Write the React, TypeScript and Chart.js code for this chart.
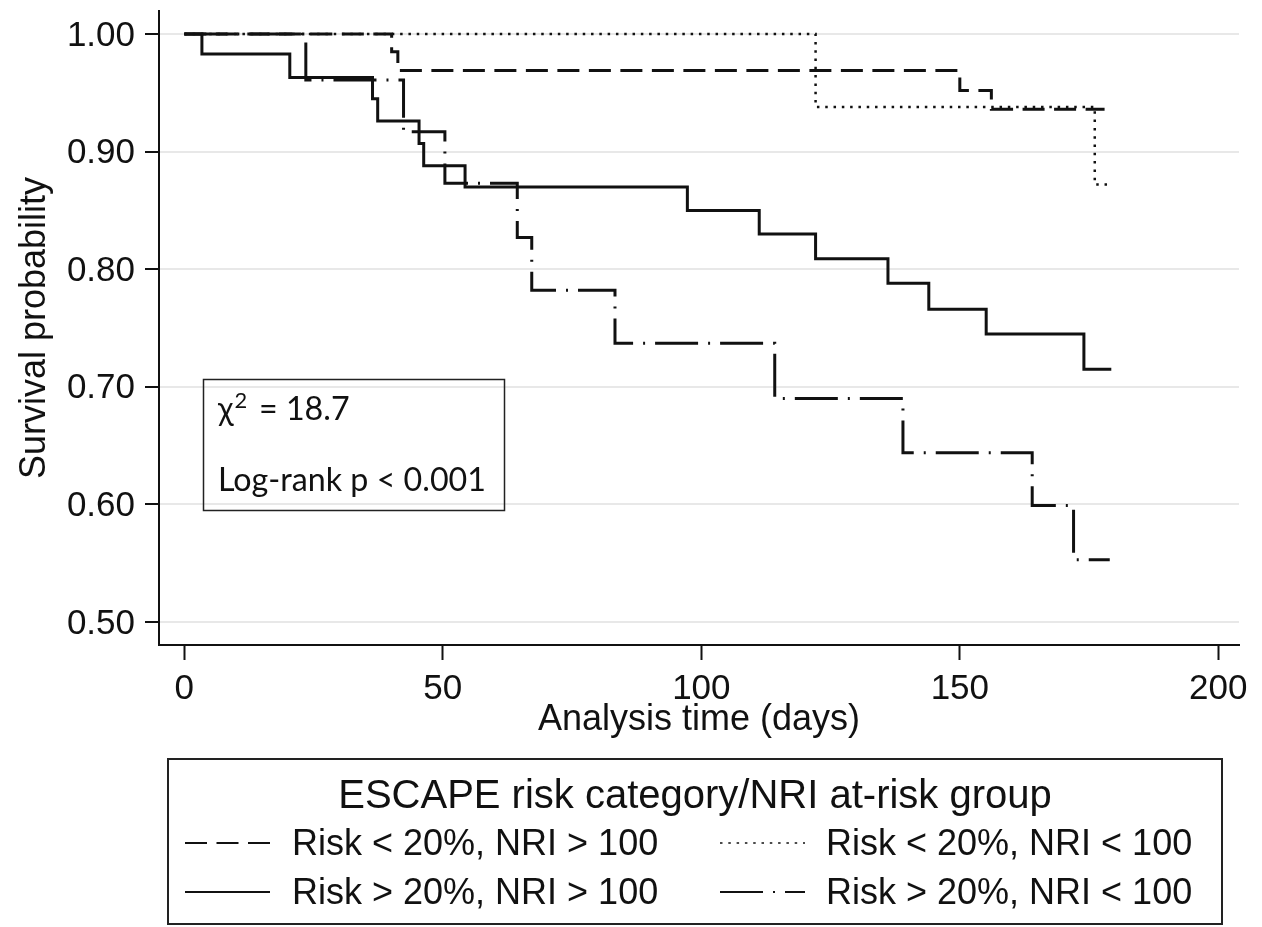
import { useEffect, useRef } from "react";
import { Chart, registerables } from "chart.js";

Chart.register(...registerables);

// ---------- data ----------
const groupLabels = [
  "Risk < 20%, NRI > 100",
  "Risk < 20%, NRI < 100",
  "Risk > 20%, NRI > 100",
  "Risk > 20%, NRI < 100",
];

const lowRiskHighNriTime = [0, 40.1, 41.3, 150.0, 156.1, 178.0];
const lowRiskHighNriSurv = [1.0, 0.985, 0.969, 0.952, 0.936, 0.936];

const lowRiskLowNriTime = [0, 122.1, 176.1, 178.9];
const lowRiskLowNriSurv = [1.0, 0.938, 0.872, 0.872];

const highRiskHighNriTime = [0, 3.4, 20.4, 36.4, 37.4, 45.4, 46.3, 54.3, 97.3, 111.2, 122.1, 136.1, 144.0, 155.1, 174.0, 179.3];
const highRiskHighNriSurv = [1.0, 0.983, 0.963, 0.945, 0.926, 0.907, 0.888, 0.870, 0.850, 0.830, 0.809, 0.788, 0.766, 0.745, 0.715, 0.715];

const highRiskLowNriTime = [0, 23.5, 42.4, 50.4, 64.4, 67.2, 83.3, 114.2, 139.0, 164.0, 172.0, 179.0];
const highRiskLowNriSurv = [1.0, 0.961, 0.917, 0.873, 0.827, 0.782, 0.737, 0.690, 0.644, 0.599, 0.553, 0.553];

const xTicks = [0, 50, 100, 150, 200];
const yTicks = [0.5, 0.6, 0.7, 0.8, 0.9, 1.0];

const xTitle = "Analysis time (days)";
const yTitle = "Survival probability";
const legendTitle = "ESCAPE risk category/NRI at-risk group";
const chiSquareValue = "18.7";
const logRankText = "Log-rank p < 0.001";

// ---------- styles ----------
const FONT = "'Liberation Sans', Arial, Helvetica, sans-serif";
const NOTE_FONT = "Lato, 'Open Sans', 'DejaVu Sans', sans-serif";
const INK = "#111111";

const seriesStyles = [
  { dash: [22, 9.5], width: 3, legendWidth: 2 },
  { dash: [2.5, 5.8], width: 2.5, legendWidth: 1.5 },
  { dash: [], width: 3, legendWidth: 2 },
  { dash: [43, 10, 2, 10], width: 3, legendWidth: 2 },
];

const toPoints = (t: number[], s: number[]) => t.map((v, i) => ({ x: v, y: s[i] }));

const seriesData = [
  toPoints(lowRiskHighNriTime, lowRiskHighNriSurv),
  toPoints(lowRiskLowNriTime, lowRiskLowNriSurv),
  toPoints(highRiskHighNriTime, highRiskHighNriSurv),
  toPoints(highRiskLowNriTime, highRiskLowNriSurv),
];

const overlayPlugin = {
  id: "kmOverlay",
  afterDraw(chart: any) {
    const ctx: CanvasRenderingContext2D = chart.ctx;
    ctx.save();

    // ---- annotation box ----
    ctx.strokeStyle = "#222";
    ctx.lineWidth = 1.5;
    ctx.setLineDash([]);
    ctx.strokeRect(203.5, 379.5, 301, 131);

    ctx.font = `100px ${NOTE_FONT}`;
    const w100 = ctx.measureText(logRankText).width;
    const noteSize = (100 * 268) / w100;
    ctx.fillStyle = INK;
    ctx.textAlign = "left";
    ctx.textBaseline = "alphabetic";
    ctx.font = `${noteSize}px ${NOTE_FONT}`;
    ctx.fillText("\u03C7", 218, 420);
    const chiW = ctx.measureText("\u03C7").width;
    ctx.font = `${noteSize * 0.68}px ${NOTE_FONT}`;
    ctx.fillText("2", 218 + chiW + 1, 420 - noteSize * 0.36);
    ctx.font = `${noteSize}px ${NOTE_FONT}`;
    ctx.fillText("= " + chiSquareValue, 259, 420);
    ctx.fillText(logRankText, 218, 491);

    // ---- legend ----
    ctx.strokeStyle = "#222";
    ctx.lineWidth = 2;
    ctx.strokeRect(168, 759, 1054, 165);

    ctx.font = `40px ${FONT}`;
    ctx.textAlign = "center";
    ctx.textBaseline = "middle";
    ctx.fillStyle = INK;
    ctx.fillText(legendTitle, 695, 797);

    const colSample = [185, 720];
    const colText = [292, 826];
    const rowY = [845, 894];
    const sampleW = 85;
    chart.data.datasets.forEach((ds: any, i: number) => {
      const col = i % 2;
      const row = Math.floor(i / 2);
      const y = rowY[row];
      const st = seriesStyles[i];
      ctx.beginPath();
      ctx.setLineDash(st.dash);
      ctx.lineDashOffset = 0;
      ctx.lineCap = "butt";
      ctx.lineWidth = st.legendWidth;
      ctx.strokeStyle = INK;
      ctx.moveTo(colSample[col], y - 2);
      ctx.lineTo(colSample[col] + sampleW, y - 2);
      ctx.stroke();
      ctx.setLineDash([]);
      ctx.font = `36px ${FONT}`;
      ctx.textAlign = "left";
      ctx.textBaseline = "middle";
      ctx.fillStyle = INK;
      ctx.fillText(ds.label, colText[col], y);
    });

    ctx.restore();
  },
};

export default function App() {
  const canvasRef = useRef<HTMLCanvasElement | null>(null);

  useEffect(() => {
    document.body.style.margin = "0";
    const canvas = canvasRef.current;
    if (!canvas) return;

    const chart = new Chart(canvas, {
      type: "line",
      data: {
        datasets: seriesData.map((pts, i) => ({
          label: groupLabels[i],
          data: pts,
          borderColor: INK,
          backgroundColor: INK,
          borderWidth: seriesStyles[i].width,
          borderDash: seriesStyles[i].dash,
          borderCapStyle: "butt",
          borderJoinStyle: "miter",
          stepped: true,
          pointRadius: 0,
          pointHoverRadius: 0,
          fill: false,
        })),
      },
      options: {
        animation: false,
        responsive: false,
        devicePixelRatio: 1,
        events: [],
        layout: { padding: { left: 0, right: 23, top: 11, bottom: 172 } },
        plugins: {
          legend: { display: false },
          tooltip: { enabled: false },
          title: { display: false },
        },
        scales: {
          x: {
            type: "linear",
            min: -4.9,
            max: 204,
            afterBuildTicks: (s: any) => {
              s.ticks = xTicks.map((v) => ({ value: v }));
            },
            afterFit: (s: any) => {
              s.height = 110;
              s.paddingLeft = 0;
              s.paddingRight = 0;
            },
            grid: {
              display: true,
              drawOnChartArea: false,
              drawTicks: true,
              tickLength: 15,
              tickWidth: 2,
              tickColor: INK,
            },
            border: { display: true, color: INK, width: 2 },
            ticks: {
              font: { family: FONT, size: 35 },
              color: INK,
              padding: 8,
              maxRotation: 0,
              autoSkip: false,
              callback: (v: any) => String(v),
            },
            title: {
              display: true,
              text: xTitle,
              font: { family: FONT, size: 36 },
              color: INK,
              padding: { top: 0, bottom: 13 },
            },
          },
          y: {
            type: "linear",
            min: 0.4804,
            max: 1.0196,
            afterBuildTicks: (s: any) => {
              s.ticks = yTicks.map((v) => ({ value: v }));
            },
            afterFit: (s: any) => {
              s.width = 159;
              s.paddingTop = 0;
              s.paddingBottom = 0;
            },
            grid: {
              display: true,
              drawOnChartArea: true,
              color: "#e8e8e8",
              lineWidth: 2,
              drawTicks: true,
              tickLength: 14,
              tickWidth: 2,
              tickColor: INK,
            },
            border: { display: true, color: INK, width: 2 },
            ticks: {
              font: { family: FONT, size: 35 },
              color: INK,
              padding: 10,
              labelOffset: 2,
              autoSkip: false,
              callback: (v: any) => Number(v).toFixed(2),
            },
            title: {
              display: true,
              text: yTitle,
              font: { family: FONT, size: 36 },
              color: INK,
              padding: { top: 13, bottom: 0 },
            },
          },
        },
      } as any,
      plugins: [overlayPlugin],
    });

    return () => {
      chart.destroy();
    };
  }, []);

  return (
    <div style={{ width: 1262, height: 927 }}>
      <canvas ref={canvasRef} width={1262} height={927} style={{ display: "block", width: 1262, height: 927 }} />
    </div>
  );
}
